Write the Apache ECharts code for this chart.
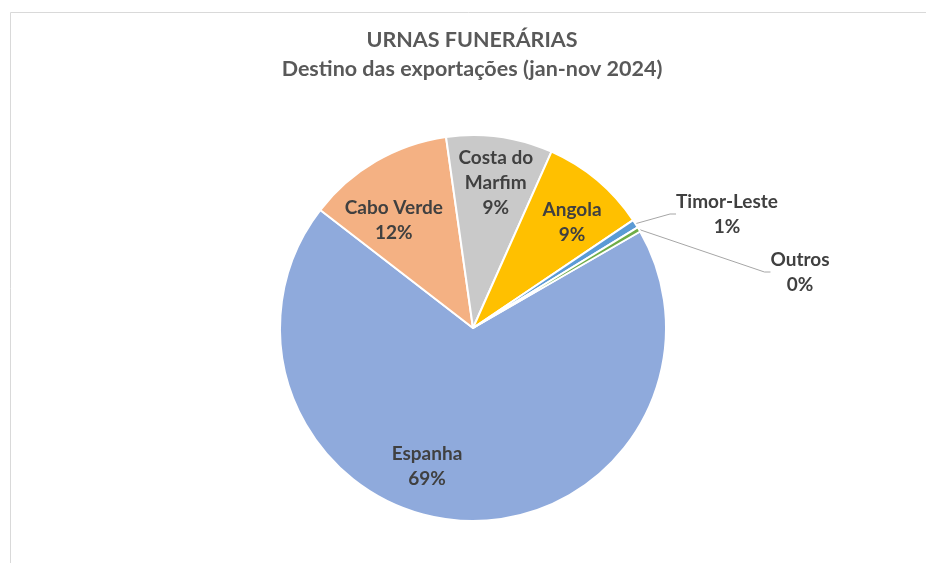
<!DOCTYPE html>
<html>
<head>
<meta charset="utf-8">
<title>Urnas funerárias</title>
<script src="https://cdn.jsdelivr.net/npm/echarts@6/dist/echarts.min.js"></script>
<style>
  html, body { margin: 0; padding: 0; background: #fff; }
  #chart { width: 926px; height: 563px; }
</style>
</head>
<body>
<div id="chart"></div>
<script>
// destinos e quotas (%)
const countries = ['Espanha', 'Cabo Verde', 'Costa do Marfim', 'Angola', 'Timor-Leste', 'Outros']
const shares = [68.8, 12.3, 8.9, 8.9, 0.7, 0.4]
const colors = ['#8FAADC', '#F4B183', '#C9C9C9', '#FFC000', '#5B9BD5', '#70AD47']
const outsideLabels = ['Timor-Leste', 'Outros']

const center = [473, 328]
const radius = 193
const labelFont = { fontFamily: 'Lato', fontWeight: 'bold', fontSize: 19, color: '#404040', lineHeight: 25 }

// pequenos acertos para imitar o "melhor ajuste" do Excel
const nudges = {
  'Espanha': [-36, -11],
  'Cabo Verde': [-4, 22],
  'Costa do Marfim': [2, 3],
  'Angola': [3, 9]
}
const outsidePos = {
  'Timor-Leste': [727, 214],
  'Outros': [800, 272]
}

const fmt = p => {
  const name = p.name === 'Costa do Marfim' ? 'Costa do\nMarfim' : p.name
  return name + '\n' + p.percent + '%'
}

const chart = echarts.init(document.getElementById('chart'))

chart.setOption({
  animation: false,
  title: {
    text: 'URNAS FUNERÁRIAS\nDestino das exportações (jan-nov 2024)',
    left: 467,
    textAlign: 'center',
    top: 21,
    textStyle: { fontFamily: 'Lato', fontWeight: 'bold', fontSize: 21.5, color: '#595959', lineHeight: 29 }
  },
  graphic: [{
    type: 'rect',
    shape: { x: 10.5, y: 12.5, width: 1000, height: 700 },
    style: { fill: 'none', stroke: '#D9D9D9', lineWidth: 1 },
    silent: true
  }],
  series: [{
    // fatias e rótulos exteriores
    type: 'pie',
    center: center,
    radius: [0, radius],
    startAngle: 30,
    percentPrecision: 0,
    silent: true,
    itemStyle: { borderColor: '#fff', borderWidth: 2 },
    label: Object.assign({ show: true, position: 'outside', formatter: fmt }, labelFont),
    labelLine: { show: true, length: 30, length2: 6, lineStyle: { color: '#A6A6A6', width: 1 } },
    labelLayout: p => {
      const pos = outsidePos[countries[p.dataIndex]]
      if (!pos) return {}
      return { x: pos[0], y: pos[1], align: 'center', verticalAlign: 'middle' }
    },
    data: countries.map((c, i) => ({
      name: c,
      value: shares[i],
      itemStyle: { color: colors[i] },
      label: { show: outsideLabels.includes(c) },
      labelLine: { show: outsideLabels.includes(c) }
    }))
  }, {
    // anel invisível só para colocar os rótulos interiores a ~3/4 do raio
    type: 'pie',
    center: center,
    radius: [100, radius],
    startAngle: 30,
    percentPrecision: 0,
    silent: true,
    itemStyle: { color: 'transparent', borderWidth: 0 },
    label: Object.assign({ show: true, position: 'inside', formatter: fmt }, labelFont),
    labelLine: { show: false },
    labelLayout: p => {
      const d = nudges[countries[p.dataIndex]]
      return d ? { dx: d[0], dy: d[1] } : {}
    },
    data: countries.map((c, i) => ({
      name: c,
      value: shares[i],
      label: { show: !outsideLabels.includes(c) }
    }))
  }]
})
</script>
</body>
</html>
